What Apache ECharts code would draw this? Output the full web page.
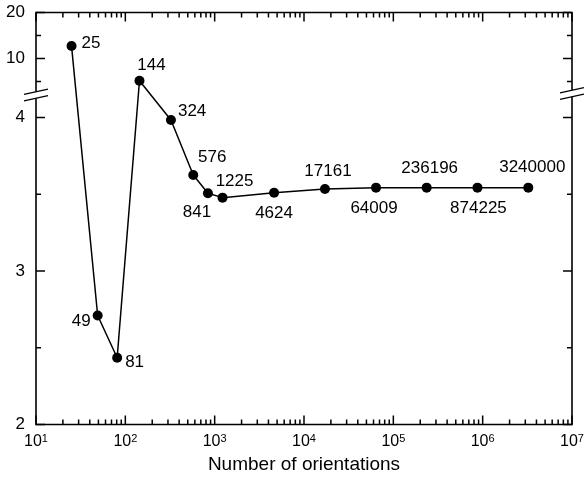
<!DOCTYPE html>
<html><head><meta charset="utf-8">
<script src="https://cdn.jsdelivr.net/npm/echarts@6/dist/echarts.min.js"></script>
<style>html,body{margin:0;padding:0;background:#fff}#c{width:584px;height:479px}</style>
</head><body><div id="c"></div>
<script>
// ---- data ----
const orientations = [25, 49, 81, 144, 324, 576, 841, 1225, 4624, 17161, 64009, 236196, 874225, 3240000];
const values = [12.7, 2.71, 2.435, 5.17, 3.984, 3.625, 3.506, 3.478, 3.51, 3.534, 3.543, 3.543, 3.543, 3.543];
const pointLabels = ['25','49','81','144','324','576','841','1225','4624','17161','64009','236196','874225','3240000'];
const xMajorTicks = [10, 100, 1e3, 1e4, 1e5, 1e6, 1e7];
const xMinorMultipliers = [2, 3, 4, 5, 6, 7, 8, 9];
const yLowerTicks = [2, 3, 4];
const yLowerMinor = [2.5, 3.5];
const yUpperTicks = [10, 20];
const yUpperMinor = [5, 15];

// ---- label placement (style) ----
const labelPlace = [
  ['right', [0, -3]], ['left', [3, 6]], ['right', [-2, 5]], ['top', [12, 3]],
  ['right', [-3, -9]], ['top', [19, 1]], ['bottom', [-11, 0]], ['top', [12, 2]],
  ['bottom', [0, 2]], ['top', [3, 1]], ['bottom', [-2, 2]], ['top', [3, -1]],
  ['bottom', [1, 2]], ['top', [4, -2]]
];
const MAJOR_LEN = 9, MINOR_LEN = 5;

// ---- broken y axis: lower segment linear 2..~4.15, upper segment compressed linear ----
const BREAK_AT = 4.15;
const U10 = 4.3844;
const UK = 4.6 / 153.5;
function toAxis(v) { return v <= BREAK_AT ? v : U10 + (v - 10) * UK; }
function toUpper(v) { return U10 + (v - 10) * UK; }
function fromAxis(a) { return a > BREAK_AT ? Math.round(10 + (a - U10) / UK) : Math.round(a * 10) / 10; }
const yMin = 2, yMax = toUpper(20);
const xMin = 10, xMax = 1e7;

const xMinorTicks = [];
for (let d = 1; d < 7; d++) xMinorMultipliers.forEach(m => xMinorTicks.push(m * Math.pow(10, d)));
const yMajorAxis = yLowerTicks.concat(yUpperTicks.map(toUpper));
const yMinorAxis = yLowerMinor.concat(yUpperMinor.map(toUpper));

const FONT = 'Liberation Sans, Arial, sans-serif';
const chart = echarts.init(document.getElementById('c'));

const xTickData = xMajorTicks.map(v => [v, yMin, MAJOR_LEN]).concat(xMinorTicks.map(v => [v, yMin, MINOR_LEN]));
const yTickData = yMajorAxis.map(v => [xMin, v, MAJOR_LEN]).concat(yMinorAxis.map(v => [xMin, v, MINOR_LEN]));
const tickStyle = () => ({ stroke: '#000', lineWidth: 1.5 });

chart.setOption({
  animation: false,
  backgroundColor: '#fff',
  grid: { left: 36, right: 12, top: 12.5, bottom: 54.5, outerBoundsMode: 'none', containLabel: false,
          show: true, borderColor: '#000', borderWidth: 1.6, backgroundColor: 'transparent' },
  xAxis: {
    type: 'log', logBase: 10, min: xMin, max: xMax,
    axisLine: { show: false }, axisTick: { show: false },
    axisLabel: {
      show: true, customValues: xMajorTicks, margin: 9, color: '#000', fontFamily: FONT,
      formatter: v => '{b|10}{s|' + Math.round(Math.log10(v)) + '}',
      rich: { b: { fontSize: 16, fontFamily: FONT, color: '#000' },
              s: { fontSize: 11, fontFamily: FONT, color: '#000', verticalAlign: 'top' } }
    },
    splitLine: { show: false }, minorTick: { show: false }, minorSplitLine: { show: false },
    name: 'Number of orientations', nameLocation: 'middle', nameGap: 31,
    nameTextStyle: { fontSize: 19, color: '#000', fontFamily: FONT }
  },
  yAxis: {
    type: 'value', min: yMin, max: yMax,
    axisLine: { show: false }, axisTick: { show: false },
    axisLabel: {
      show: true, customValues: yMajorAxis, margin: 11, color: '#000', fontSize: 17, fontFamily: FONT,
      formatter: v => String(fromAxis(v))
    },
    splitLine: { show: false }
  },
  series: [{
    type: 'custom', name: 'xticks', clip: false, silent: true, z: 5,
    data: xTickData,
    renderItem: (params, api) => {
      const v = api.value(0), len = api.value(2);
      const b = api.coord([v, yMin]), t = api.coord([v, yMax]);
      return { type: 'group', children: [
        { type: 'line', shape: { x1: b[0], y1: b[1], x2: b[0], y2: b[1] - len }, style: tickStyle() },
        { type: 'line', shape: { x1: t[0], y1: t[1], x2: t[0], y2: t[1] + len }, style: tickStyle() }
      ] };
    }
  }, {
    type: 'custom', name: 'yticks', clip: false, silent: true, z: 5,
    data: yTickData,
    renderItem: (params, api) => {
      const v = api.value(1), len = api.value(2);
      const l = api.coord([xMin, v]), r = api.coord([xMax, v]);
      return { type: 'group', children: [
        { type: 'line', shape: { x1: l[0], y1: l[1], x2: l[0] + len, y2: l[1] }, style: tickStyle() },
        { type: 'line', shape: { x1: r[0], y1: r[1], x2: r[0] - len, y2: r[1] }, style: tickStyle() }
      ] };
    }
  }, {
    type: 'line', z: 10,
    symbol: 'circle', symbolSize: 10,
    itemStyle: { color: '#000' },
    lineStyle: { color: '#000', width: 1.5 },
    data: orientations.map((x, i) => ({
      value: [x, toAxis(values[i])],
      label: { show: true, formatter: pointLabels[i], position: labelPlace[i][0], offset: labelPlace[i][1],
               distance: 5, fontSize: 17, color: '#000', fontFamily: FONT }
    }))
  }]
});

// break marks on both vertical axes
const pL = chart.convertToPixel({ gridIndex: 0 }, [xMin, BREAK_AT]);
const pR = chart.convertToPixel({ gridIndex: 0 }, [xMax, BREAK_AT]);
function breakMark(x, y) {
  const s = -0.22, half = 12, g = 6.5;
  const yA = dx => y - g / 2 + s * dx;
  return [
    { type: 'polygon', shape: { points: [[x - 4, yA(-4)], [x + 4, yA(4)], [x + 4, yA(4) + g], [x - 4, yA(-4) + g]] },
      style: { fill: '#fff' }, z: 100 },
    { type: 'line', shape: { x1: x - half, y1: yA(-half), x2: x + half, y2: yA(half) }, style: { stroke: '#000', lineWidth: 1.4 }, z: 101 },
    { type: 'line', shape: { x1: x - half, y1: yA(-half) + g, x2: x + half, y2: yA(half) + g }, style: { stroke: '#000', lineWidth: 1.4 }, z: 101 }
  ];
}
chart.setOption({ graphic: breakMark(pL[0], pL[1] + 0.5).concat(breakMark(pR[0], pR[1] - 1)) });
</script></body></html>
